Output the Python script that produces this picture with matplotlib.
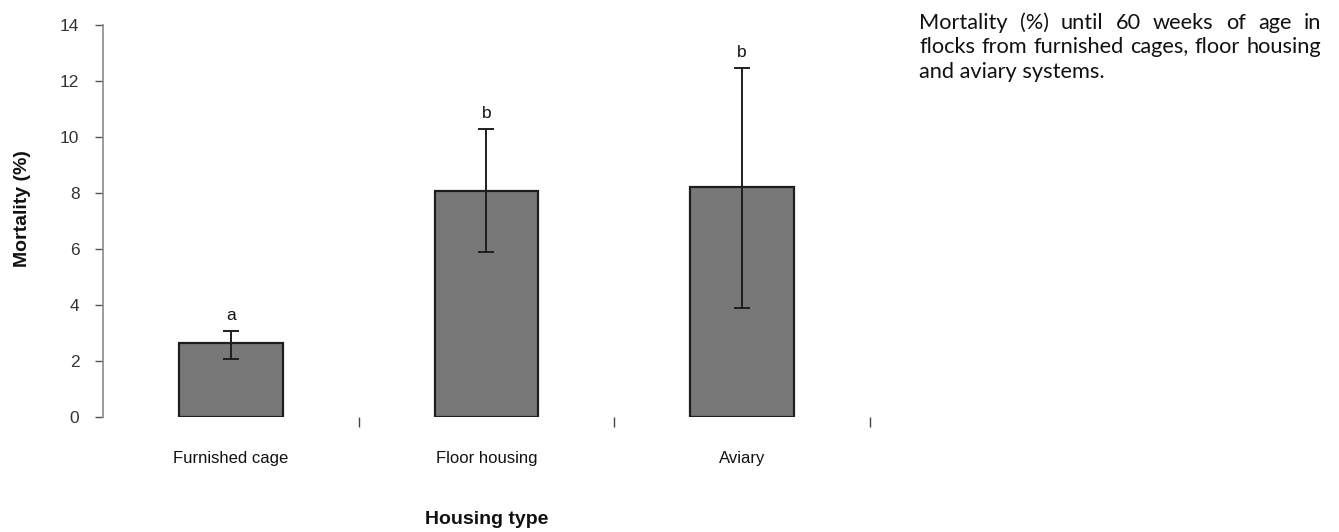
import matplotlib
matplotlib.use("Agg")
import matplotlib.pyplot as plt
import numpy as np

# Data
categories = ["Furnished cage", "Floor housing", "Aviary"]
mortality = [2.62, 8.06, 8.21]
err_lower = [0.56, 2.19, 4.34]
err_upper = [0.44, 2.20, 4.24]
letters = ["a", "b", "b"]

caption_lines = [
    "Mortality (%) until 60 weeks of age in",
    "flocks from furnished cages, floor housing",
    "and aviary systems.",
]

plt.rcParams['font.family'] = ['Liberation Sans', 'DejaVu Sans']

W, H = 1339, 532
fig = plt.figure(figsize=(W / 100, H / 100), dpi=100)
ax = fig.add_axes([103 / W, 1 - 416.7 / H, (870 - 103) / W, (416.7 - 24.5) / H])

x = np.arange(len(categories))
ax.bar(x, mortality, width=0.405, color="#787878", edgecolor="#1e1e1e", linewidth=1.6, zorder=2)
ax.errorbar(x, mortality, yerr=[err_lower, err_upper], fmt="none", ecolor="#1e1e1e",
            elinewidth=1.4, capsize=5.5, capthick=1.4, zorder=3)

for xi, m, up, lab in zip(x, mortality, err_upper, letters):
    ax.text(xi, m + up + 0.3, lab, ha="center", va="bottom", fontsize=12.5, color="#111111")

ax.set_xlim(-0.5, 2.5)
ax.set_ylim(0, 14)
ax.set_yticks(np.arange(0, 15, 2))

# boundary tick marks below the bars, category labels without tick lines
ax.set_xticks([0.5, 1.5, 2.5])
ax.set_xticklabels([])
ax.set_xticks(x, minor=True)
ax.set_xticklabels(categories, minor=True, fontsize=12, color="#111111")
ax.tick_params(axis="x", which="major", direction="out", length=7, width=1.0, color="#444444", pad=2)
ax.tick_params(axis="x", which="minor", length=0, pad=25)
ax.tick_params(axis="y", direction="out", length=6, width=1.0, color="#555555",
               labelsize=12.5, labelcolor="#333333", pad=11)

for s in ["top", "right", "bottom"]:
    ax.spines[s].set_visible(False)
ax.spines["left"].set_color("#8a8a8a")
ax.spines["left"].set_linewidth(1.2)

ax.set_ylabel("Mortality (%)", fontsize=14, fontweight="bold", color="#111111")
ax.set_xlabel("Housing type", fontsize=14, fontweight="bold", color="#111111")
ax.yaxis.set_label_coords((31 - 103) / 767, 0.53)
ax.xaxis.set_label_coords(0.5, (416.7 - 511) / 392.2)

# justified caption on the right
fig.canvas.draw()
renderer = fig.canvas.get_renderer()
x0, x1 = 919, 1321
baselines = [29, 53, 78]
cap_font = dict(family=["Lato", "DejaVu Sans"], color="#111111")

# size the caption font so the last line spans as wide as in the reference
probe = fig.text(0, 0, caption_lines[-1], fontsize=12, **cap_font)
cap_size = 12 * 184 / probe.get_window_extent(renderer).width
probe.remove()

for i, (line, base) in enumerate(zip(caption_lines, baselines)):
    words = line.split()
    ypos = 1 - base / H
    if i == len(caption_lines) - 1:
        fig.text(x0 / W, ypos, line, ha="left", va="baseline", fontsize=cap_size, **cap_font)
        continue
    texts = [fig.text(0, ypos, w, ha="left", va="baseline", fontsize=cap_size, **cap_font)
             for w in words]
    widths = [t.get_window_extent(renderer).width for t in texts]
    gap = (x1 - x0 - sum(widths)) / (len(words) - 1)
    pos = x0
    for t, wd in zip(texts, widths):
        t.set_x(pos / W)
        pos += wd + gap

fig.savefig("out.png", dpi=100, facecolor="white")
